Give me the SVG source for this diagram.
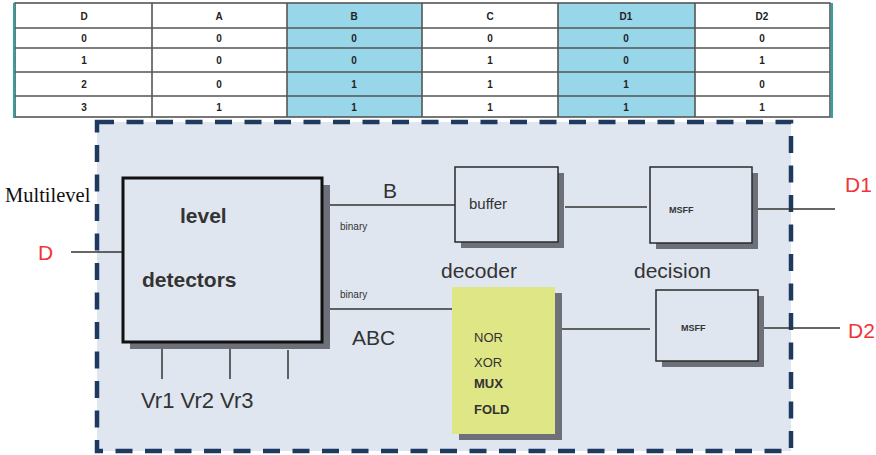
<svg xmlns="http://www.w3.org/2000/svg" width="876" height="455" viewBox="0 0 876 455">
<style>
.tt{font-family:"Liberation Sans",Arial,sans-serif;font-size:10px;font-weight:bold;fill:#222;text-anchor:middle}
.grid{stroke:#555;stroke-width:1.6;fill:none}
.box{fill:#dfe6f0;stroke:#2a2a2a;stroke-width:1.5}
.sh{fill:#6d7078}
.wire{stroke:#333;stroke-width:1.5;fill:none}
.lbl{font-family:"Liberation Sans",Arial,sans-serif;fill:#333}
.red{font-family:"Liberation Sans",Arial,sans-serif;fill:#f0353a;font-size:21px}
</style>
<rect width="876" height="455" fill="#fff"/>
<g id="table">
<rect x="287" y="3" width="135" height="114" fill="#97d7e9"/>
<rect x="558" y="3" width="137" height="114" fill="#97d7e9"/>
<rect x="15" y="3" width="815" height="114" class="grid"/>
<line x1="15" y1="28" x2="830" y2="28" class="grid"/>
<line x1="15" y1="48" x2="830" y2="48" class="grid"/>
<line x1="15" y1="72" x2="830" y2="72" class="grid"/>
<line x1="15" y1="96" x2="830" y2="96" class="grid"/>
<line x1="152" y1="3" x2="152" y2="117" class="grid"/>
<line x1="287" y1="3" x2="287" y2="117" class="grid"/>
<line x1="422" y1="3" x2="422" y2="117" class="grid"/>
<line x1="558" y1="3" x2="558" y2="117" class="grid" stroke="#222"/>
<line x1="695" y1="3" x2="695" y2="117" class="grid"/>
<line x1="14" y1="3" x2="14" y2="118" stroke="#2aa5a5" stroke-width="2"/>
<line x1="832" y1="3" x2="832" y2="118" stroke="#2aa5a5" stroke-width="2"/>
<g class="tt">
<text x="84" y="20">D</text><text x="219" y="20">A</text><text x="354" y="20">B</text><text x="490" y="20">C</text><text x="626" y="20">D1</text><text x="762" y="20">D2</text>
<text x="84" y="42">0</text><text x="219" y="42">0</text><text x="354" y="42">0</text><text x="490" y="42">0</text><text x="626" y="42">0</text><text x="762" y="42">0</text>
<text x="84" y="64">1</text><text x="219" y="64">0</text><text x="354" y="64">0</text><text x="490" y="64">1</text><text x="626" y="64">0</text><text x="762" y="64">1</text>
<text x="84" y="88">2</text><text x="219" y="88">0</text><text x="354" y="88">1</text><text x="490" y="88">1</text><text x="626" y="88">1</text><text x="762" y="88">0</text>
<text x="84" y="111">3</text><text x="219" y="111">1</text><text x="354" y="111">1</text><text x="490" y="111">1</text><text x="626" y="111">1</text><text x="762" y="111">1</text>
</g>
</g>
<g id="frame">
<rect x="97" y="122" width="694" height="329" fill="#dfe6f0" stroke="#1f3a5f" stroke-width="4.5" stroke-dasharray="17,12.5"/>
</g>
<g id="connectors">
<line x1="71" y1="252" x2="130" y2="252" class="wire"/>
<line x1="322" y1="205" x2="456" y2="205" class="wire"/>
<line x1="322" y1="309" x2="457" y2="309" class="wire"/>
<line x1="565" y1="207" x2="647" y2="207" class="wire"/>
<line x1="758" y1="209" x2="835" y2="209" class="wire"/>
<line x1="562" y1="329" x2="650" y2="329" class="wire"/>
<line x1="760" y1="328" x2="840" y2="328" class="wire"/>
<line x1="162" y1="342" x2="162" y2="379" class="wire"/>
<line x1="230" y1="342" x2="230" y2="379" class="wire"/>
<line x1="288" y1="350" x2="288" y2="379" class="wire"/>
</g>
<g id="level-detectors">
<rect x="130" y="185" width="200" height="164" class="sh"/>
<rect x="123" y="178" width="199" height="164" fill="#dfe6f0" stroke="#111" stroke-width="3"/>
<text x="180" y="223" class="lbl" font-size="21" font-weight="bold" fill="#222">level</text>
<text x="142" y="287" class="lbl" font-size="21" font-weight="bold" fill="#222">detectors</text>
</g>
<g id="buffer">
<rect x="461" y="173" width="103" height="75" class="sh"/>
<rect x="455" y="167" width="103" height="75" class="box"/>
<text x="469" y="209" class="lbl" font-size="15">buffer</text>
</g>
<g id="msff1">
<rect x="656" y="173" width="102" height="76" class="sh"/>
<rect x="650" y="167" width="102" height="76" class="box"/>
<text x="669" y="213" class="lbl" font-size="9" font-weight="bold" fill="#222">MSFF</text>
</g>
<g id="decoder">
<rect x="459" y="293" width="103" height="147" class="sh"/>
<rect x="452" y="287" width="103" height="147" fill="#dfe685"/>
<g class="lbl" font-size="13" fill="#2a2a2a">
<text x="474" y="342">NOR</text>
<text x="474" y="367">XOR</text>
<text x="474" y="388" font-weight="bold">MUX</text>
<text x="474" y="414" font-weight="bold">FOLD</text>
</g>
</g>
<g id="msff2">
<rect x="662" y="296" width="102" height="71" class="sh"/>
<rect x="656" y="290" width="102" height="71" class="box"/>
<text x="681" y="331" class="lbl" font-size="9" font-weight="bold" fill="#222">MSFF</text>
</g>
<g id="labels">
<text x="5" y="202" font-family="Liberation Serif,Times New Roman,serif" font-size="20.5" fill="#111">Multilevel</text>
<text x="38" y="260" class="red">D</text>
<text x="383" y="198" class="lbl" font-size="21">B</text>
<text x="340" y="230" class="lbl" font-size="10">binary</text>
<text x="340" y="298" class="lbl" font-size="10">binary</text>
<text x="352" y="345" class="lbl" font-size="21">ABC</text>
<text x="441" y="278" class="lbl" font-size="21">decoder</text>
<text x="634" y="278" class="lbl" font-size="21">decision</text>
<text x="845" y="192" class="red">D1</text>
<text x="848" y="338" class="red">D2</text>
<text x="141" y="408" class="lbl" font-size="22">Vr1 Vr2 Vr3</text>
</g>
</svg>
